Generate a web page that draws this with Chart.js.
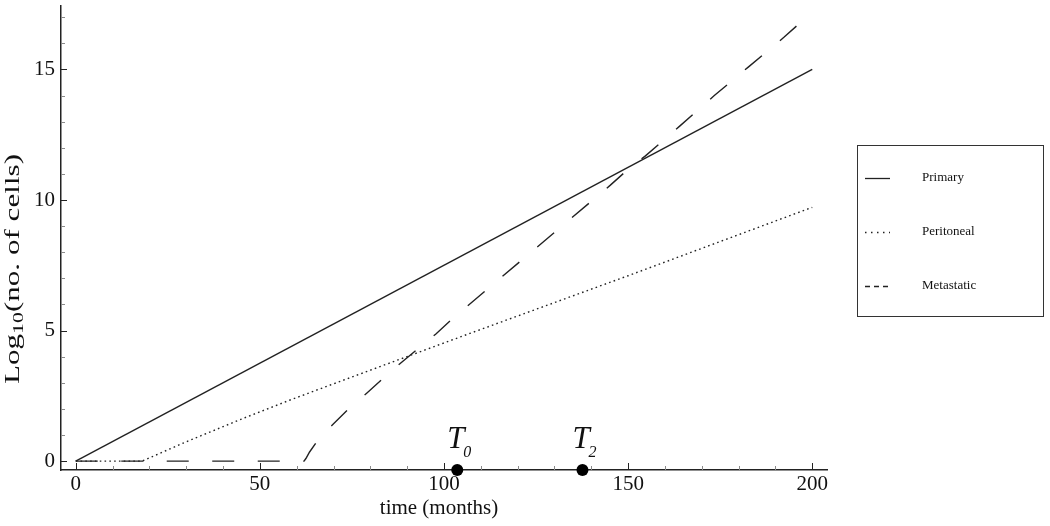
<!DOCTYPE html>
<html><head><meta charset="utf-8">
<script src="https://cdn.jsdelivr.net/npm/chart.js@4/dist/chart.umd.min.js"></script>
<style>html,body{margin:0;padding:0;background:#fff;} #wrap{width:1050px;height:526px;}</style>
</head><body><div id="wrap"><canvas id="c" width="1050" height="526"></canvas></div>
<script>
// ---- data ----
const seriesNames = ['Primary', 'Peritoneal', 'Metastatic'];
const primaryMonths = [0, 200];
const primaryLog = [0, 15];
const peritonealMonths = [0, 18, 30, 45, 58.2, 70, 92, 107, 150, 200];
const peritonealLog = [0, 0, 0.74, 1.61, 2.34, 2.96, 4.11, 4.89, 7.1, 9.72];
const metastaticMonths = [0, 62, 62.5, 63.5, 65.4, 67.5, 69.8, 74.3, 79, 83.5, 88.1, 92.8, 97.8, 102.4, 145.1, 149.7, 154.7, 164, 173.4, 182.7, 192.3, 200];
const metastaticLog = [0, 0, 0.1, 0.35, 0.73, 1.08, 1.4, 2.03, 2.6, 3.17, 3.74, 4.29, 4.87, 5.47, 10.56, 11.14, 11.69, 12.83, 14.0, 15.1, 16.23, 17.2];
const markerNames = ['0', '2'];          // subscripts of T
const markerMonths = [103.6, 137.6];
const xTickValues = [0, 50, 100, 150, 200];
const yTickValues = [0, 5, 10, 15];
const xTitle = 'time (months)';
const yTitleMain = 'Log', yTitleSub = '10', yTitleRest = '(no. of cells)';
const X_MIN = -4, X_MAX = 204, Y_MIN = -0.34, Y_MAX = 17.43;

const pts = (xs, ys) => xs.map((x, i) => ({x: x, y: ys[i]}));
const INK = '#222';
const SERIF = '"Liberation Serif", "DejaVu Serif", serif';

const styles = [
  {dash: [], legendDash: []},
  {dash: [1.6, 3.2], legendDash: [1.5, 4.5]},
  {dash: [22, 23.5], legendDash: [5, 4]}
];
const seriesData = [pts(primaryMonths, primaryLog), pts(peritonealMonths, peritonealLog), pts(metastaticMonths, metastaticLog)];

const datasets = seriesNames.map((n, i) => ({
  label: n, data: seriesData[i], borderColor: INK, borderWidth: 1.4,
  borderDash: styles[i].dash, pointRadius: 0, fill: false, tension: 0, isSeries: true
}));
datasets.push({
  label: 'T', data: markerMonths.map(m => ({x: m, y: Y_MIN})), showLine: false,
  pointRadius: 6, pointHoverRadius: 6, pointBackgroundColor: '#000', pointBorderWidth: 0, clip: false
});

const fixSize = (w, h) => (s) => {
  if (w !== null) s.width = w;
  if (h !== null) s.height = h;
  s.paddingLeft = 0; s.paddingRight = 0; s.paddingTop = 0; s.paddingBottom = 0;
};

const decor = {
  id: 'decor',
  afterDraw(chart) {
    const ctx = chart.ctx, ca = chart.chartArea;
    const xs = chart.scales.x, ys = chart.scales.y;
    ctx.save();
    // inward tick marks
    ctx.lineWidth = 1;
    for (let v = 0; v <= X_MAX; v += 10) {
      const major = xTickValues.includes(v);
      const px = Math.round(xs.getPixelForValue(v)) + 0.5;
      ctx.strokeStyle = major ? '#222' : '#8a8a8a';
      ctx.beginPath(); ctx.moveTo(px, ca.bottom); ctx.lineTo(px, ca.bottom - (major ? 7 : 4)); ctx.stroke();
    }
    for (let v = 0; v <= Y_MAX; v += 1) {
      const major = yTickValues.includes(v);
      const py = Math.round(ys.getPixelForValue(v)) + 0.5;
      ctx.strokeStyle = major ? '#222' : '#8a8a8a';
      ctx.beginPath(); ctx.moveTo(ca.left, py); ctx.lineTo(ca.left + (major ? 6 : 4), py); ctx.stroke();
    }
    // T markers labels
    ctx.fillStyle = '#111';
    ctx.textBaseline = 'alphabetic'; ctx.textAlign = 'left';
    markerMonths.forEach((m, i) => {
      const px = xs.getPixelForValue(m);
      ctx.font = 'italic 31px ' + SERIF;
      ctx.fillText('T', px - 10, 448);
      ctx.font = 'italic 16px ' + SERIF;
      ctx.fillText(markerNames[i], px + 6, 457);
    });
    // x title
    ctx.font = '21px ' + SERIF; ctx.textAlign = 'center';
    ctx.fillText(xTitle, (ca.left + ca.right) / 2 - 5, 514);
    // y title (rotated, stretched along text)
    ctx.save();
    ctx.translate(19, 269);
    ctx.rotate(-Math.PI / 2);
    const fMain = '20px ' + SERIF, fSub = '14px ' + SERIF;
    ctx.font = fMain; const w1 = ctx.measureText(yTitleMain).width, w3 = ctx.measureText(yTitleRest).width;
    ctx.font = fSub; const w2 = ctx.measureText(yTitleSub).width;
    const total = w1 + w2 + w3;
    const sx = 230 / total;
    ctx.scale(sx, 1);
    let x0 = -total / 2;
    ctx.textAlign = 'left';
    ctx.font = fMain; ctx.fillText(yTitleMain, x0, 0);
    ctx.font = fSub; ctx.fillText(yTitleSub, x0 + w1, 4);
    ctx.font = fMain; ctx.fillText(yTitleRest, x0 + w1 + w2, 0);
    ctx.restore();
    // legend
    const bx = 857.5, by = 145.5, bw = 186, bh = 171;
    ctx.strokeStyle = '#333'; ctx.lineWidth = 1; ctx.setLineDash([]);
    ctx.strokeRect(bx, by, bw, bh);
    const rowsY = [178, 232, 286];
    let r = 0;
    chart.data.datasets.forEach((ds, i) => {
      if (!ds.isSeries) return;
      const y = rowsY[r];
      ctx.strokeStyle = INK; ctx.lineWidth = 1.3;
      ctx.setLineDash(styles[i].legendDash);
      ctx.beginPath(); ctx.moveTo(865, y + 0.5); ctx.lineTo(890, y + 0.5); ctx.stroke();
      ctx.setLineDash([]);
      ctx.fillStyle = '#111'; ctx.font = '13px ' + SERIF; ctx.textAlign = 'left'; ctx.textBaseline = 'middle';
      ctx.fillText(ds.label, 922, y);
      r++;
    });
    ctx.restore();
  }
};

new Chart(document.getElementById('c'), {
  type: 'line',
  data: {datasets: datasets},
  options: {
    responsive: false, animation: false, devicePixelRatio: 1,
    layout: {padding: {left: 0, top: 0, right: 223, bottom: 0}},
    plugins: {legend: {display: false}, tooltip: {enabled: false}},
    events: [],
    scales: {
      x: {
        type: 'linear', min: X_MIN, max: X_MAX,
        afterBuildTicks: s => { s.ticks = xTickValues.map(v => ({value: v})); },
        afterFit: fixSize(null, 56),
        grid: {display: false, drawTicks: false},
        border: {display: true, color: '#222', width: 1.5},
        ticks: {font: {family: SERIF, size: 21}, color: '#111', padding: 2, maxRotation: 0, autoSkip: false}
      },
      y: {
        type: 'linear', min: Y_MIN, max: Y_MAX,
        afterBuildTicks: s => { s.ticks = yTickValues.map(v => ({value: v})); },
        afterFit: fixSize(61, null),
        grid: {display: false, drawTicks: false},
        border: {display: true, color: '#222', width: 1.5},
        ticks: {font: {family: SERIF, size: 21}, color: '#111', padding: 6, autoSkip: false}
      }
    }
  },
  plugins: [decor]
});
</script></body></html>
